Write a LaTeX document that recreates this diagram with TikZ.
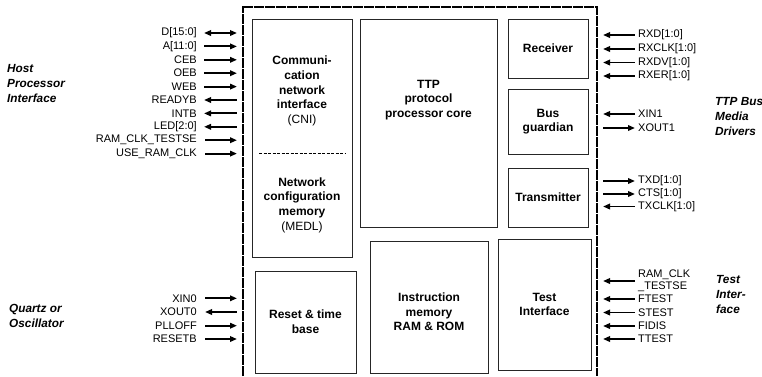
\documentclass[tikz,border=0pt]{standalone}
\usepackage{fontspec}
\setmainfont{Liberation Sans}
\usepackage{tikz}
\usetikzlibrary{positioning,arrows.meta}

\begin{document}
\begin{tikzpicture}[x=1pt,y=-1pt,>={Triangle[length=7pt,width=5.5pt]}]
\tikzstyle{every node}+=[inner sep=0pt]
\tikzstyle{blk}=[draw=black!85,line width=1pt,align=center,font=\fontsize{12}{14.7}\selectfont\bfseries]
\tikzstyle{btxt}=[align=center,font=\fontsize{12}{14.7}\selectfont\bfseries]
\tikzstyle{pinl}=[anchor=east,font=\fontsize{11}{13}\selectfont]
\tikzstyle{pinr}=[anchor=west,align=left,font=\fontsize{11}{12}\selectfont]
\tikzstyle{grp}=[anchor=west,align=left,font=\fontsize{11.8}{15}\selectfont\bfseries\itshape]
\tikzstyle{wire}=[line width=1.9pt]
\tikzstyle{chip}=[line width=1.7pt,dash pattern=on 5pt off 0.5pt]
\useasboundingbox (0,0) rectangle (762,376);
% chip outline
\draw [chip] (243,376) |- (597,7) -- (597,376);
\coordinate (hostR) at (237,0);
\coordinate (busL) at (603,0);
% blocks
\node [blk,minimum width=100pt,minimum height=238pt] (cni) at (302,138) {};
\node [btxt] (cnitxt) at (302,91) {Communi-\\cation\\network\\interface\\{\mdseries(CNI)}};
\draw [line width=0.8pt,dash pattern=on 3pt off 1.5pt] (259,153) -- (346,153);
\node [btxt] (medl) at (302,205) {Network\\configuration\\memory\\{\mdseries(MEDL)}};
\node [blk,minimum width=137pt,minimum height=208pt] (ttp) at (428.5,123) {};
\node [btxt] (ttptxt) at (428.5,100) {TTP\\protocol\\processor core};
\node [blk,minimum width=80pt,minimum height=59pt] (recv) at (548,48.5) {Receiver};
\node [blk,minimum width=80pt,minimum height=65pt] (bg) at (548,121.5) {Bus\\guardian};
\node [blk,minimum width=80pt,minimum height=59pt] (tx) at (548,197.5) {Transmitter};
\node [blk,minimum width=101pt,minimum height=102pt] (reset) at (305.5,322) {Reset \& time\\base};
\node [blk,minimum width=118pt,minimum height=132pt] (imem) at (429,307) {};
\node [btxt] (imemtxt) at (429,312) {Instruction\\memory\\RAM \& ROM};
\node [blk,minimum width=93pt,minimum height=131pt] (test) at (544.5,304.5) {Test\\Interface};
% group labels
\node [grp] (host) at (7,83) {Host\\Processor\\Interface};
\node [grp] (quartz) at (9,315.5) {Quartz or\\Oscillator};
\node [grp] (media) at (715,116.5) {TTP Bus\\Media\\Drivers};
\node [grp] (testif) at (716,294.5) {Test\\Inter-\\face};
% host pins
\node [pinl] (d) at (197,33) {D[15:0]};
\draw [wire,<->,shorten <=7pt] (d.east) -- (d.east -| hostR);
\node [pinl] (a) at (197,46.4) {A[11:0]};
\draw [wire,->,shorten <=7pt] (a.east) -- (a.east -| hostR);
\node [pinl] (ceb) at (197,59.8) {CEB};
\draw [wire,->,shorten <=7pt] (ceb.east) -- (ceb.east -| hostR);
\node [pinl] (oeb) at (197,73.2) {OEB};
\draw [wire,->,shorten <=7pt] (oeb.east) -- (oeb.east -| hostR);
\node [pinl] (web) at (197,86.6) {WEB};
\draw [wire,->,shorten <=7pt] (web.east) -- (web.east -| hostR);
\node [pinl] (readyb) at (197,100) {READYB};
\draw [wire,<-,shorten <=7pt] (readyb.east) -- (readyb.east -| hostR);
\node [pinl] (intb) at (197,113.4) {INTB};
\draw [wire,<-,shorten <=7pt] (intb.east) -- (intb.east -| hostR);
\node [pinl] (led) at (197,126.8) {LED[2:0]};
\draw [wire,<-,shorten <=7pt] (led.east) -- (led.east -| hostR);
\node [pinl] (ramtst) at (197,140.2) {RAM\_CLK\_TESTSE};
\draw [wire,->,shorten <=8pt] (ramtst.east) -- (ramtst.east -| hostR);
\node [pinl] (useram) at (197,153.6) {USE\_RAM\_CLK};
\draw [wire,->,shorten <=8pt] (useram.east) -- (useram.east -| hostR);
% quartz pins
\node [pinl] (xin0) at (197,298.3) {XIN0};
\draw [wire,->,shorten <=8pt] (xin0.east) -- (xin0.east -| hostR);
\node [pinl] (xout0) at (197,312) {XOUT0};
\draw [wire,<-,shorten <=8pt] (xout0.east) -- (xout0.east -| hostR);
\node [pinl] (plloff) at (197,325.7) {PLLOFF};
\draw [wire,->,shorten <=8pt] (plloff.east) -- (plloff.east -| hostR);
\node [pinl] (resetb) at (197,339) {RESETB};
\draw [wire,->,shorten <=8pt] (resetb.east) -- (resetb.east -| hostR);
% bus pins
\node [pinr] (rxd) at (638,35) {RXD[1:0]};
\draw [wire,<-,shorten >=3pt] (rxd.west -| busL) -- (rxd.west);
\node [pinr] (rxclk) at (638,49) {RXCLK[1:0]};
\draw [wire,<-,shorten >=3pt] (rxclk.west -| busL) -- (rxclk.west);
\node [pinr] (rxdv) at (638,62.5) {RXDV[1:0]};
\draw [wire,<-,shorten >=3pt] (rxdv.west -| busL) -- (rxdv.west);
\node [pinr] (rxer) at (638,76) {RXER[1:0]};
\draw [wire,<-,shorten >=3pt] (rxer.west -| busL) -- (rxer.west);
\node [pinr] (xin1) at (638,114) {XIN1};
\draw [wire,<-,shorten >=3pt] (xin1.west -| busL) -- (xin1.west);
\node [pinr] (xout1) at (638,128) {XOUT1};
\draw [wire,->,shorten >=3pt] (xout1.west -| busL) -- (xout1.west);
\node [pinr] (txd) at (638,181) {TXD[1:0]};
\draw [wire,->,shorten >=3pt] (txd.west -| busL) -- (txd.west);
\node [pinr] (cts) at (638,194) {CTS[1:0]};
\draw [wire,->,shorten >=3pt] (cts.west -| busL) -- (cts.west);
\node [pinr] (txclk) at (638,206.5) {TXCLK[1:0]};
\draw [wire,<-,shorten >=3pt] (txclk.west -| busL) -- (txclk.west);
% test pins
\node [pinr] (ramclk) at (638,281) {RAM\_CLK\\\_TESTSE};
\draw [wire,<-,shorten >=3pt] (ramclk.west -| busL) -- (ramclk.west);
\node [pinr] (ftest) at (638,299) {FTEST};
\draw [wire,<-,shorten >=3pt] (ftest.west -| busL) -- (ftest.west);
\node [pinr] (stest) at (638,312.5) {STEST};
\draw [wire,<-,shorten >=3pt] (stest.west -| busL) -- (stest.west);
\node [pinr] (fidis) at (638,326) {FIDIS};
\draw [wire,<-,shorten >=3pt] (fidis.west -| busL) -- (fidis.west);
\node [pinr] (ttest) at (638,339) {TTEST};
\draw [wire,<-,shorten >=3pt] (ttest.west -| busL) -- (ttest.west);
\end{tikzpicture}
\end{document}
